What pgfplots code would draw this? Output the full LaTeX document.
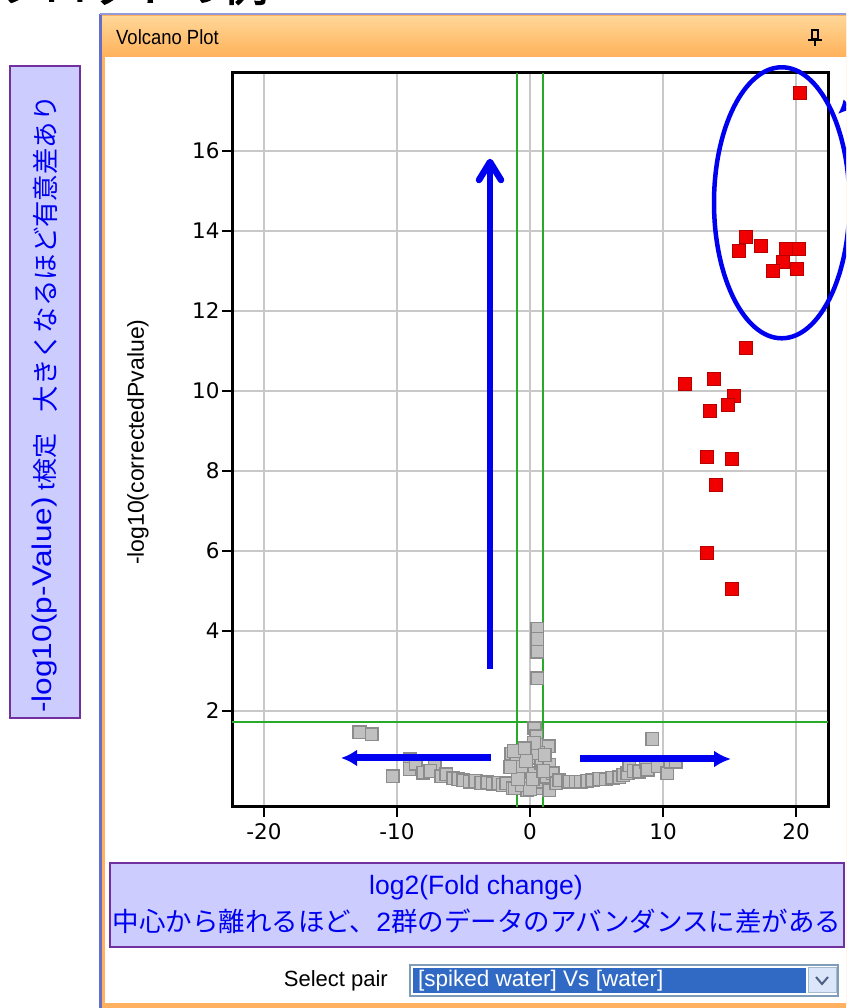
\documentclass[border=0pt]{standalone}
\usepackage{pgfplots}
\pgfplotsset{compat=1.18}
\usepackage{fontspec}
\setmainfont{Liberation Sans}
\newfontfamily\jp{Noto Sans CJK JP}
\newfontfamily\jpb[FakeBold=2.5]{Noto Sans CJK JP}
\newfontfamily\dv{DejaVu Sans}
\usetikzlibrary{arrows.meta}
\definecolor{gridgray}{RGB}{200,200,200}
\definecolor{ptgray}{RGB}{192,192,192}
\definecolor{ptgrayb}{RGB}{140,140,140}
\definecolor{ptred}{RGB}{240,0,0}
\definecolor{ptredb}{RGB}{185,0,0}
\definecolor{lgreen}{RGB}{40,170,40}
\definecolor{annoblue}{RGB}{0,0,240}
\definecolor{boxfill}{RGB}{204,204,255}
\definecolor{boxborder}{RGB}{112,48,160}
\definecolor{winorange}{RGB}{255,176,96}
\definecolor{winblue}{RGB}{100,110,200}
\definecolor{titletop}{RGB}{255,214,150}
\definecolor{titlebot}{RGB}{255,178,90}
\definecolor{selblue}{RGB}{49,106,197}
\definecolor{ddborder}{RGB}{127,157,185}
\definecolor{ddbtn}{RGB}{220,230,250}
\definecolor{ddarrow}{RGB}{77,97,133}
\begin{document}
\begin{tikzpicture}
\useasboundingbox (0,0) rectangle (846pt,1008pt);
\clip (0,0) rectangle (846pt,1008pt);
\fill[white] (0,0) rectangle (846pt,1008pt);
\begin{scope}[x=1pt,y=-1pt,yshift=1008pt]
  % cut-off heading
  \node[anchor=base west, inner sep=0pt, font=\jpb\fontsize{45}{50}\selectfont] at (-2,1) {プロットの例};
  % window frame
  \fill[winorange] (100,14) rectangle (850,1008);
  \fill[winblue] (99,14) rectangle (101.5,1008);
  \fill[white] (105,57) rectangle (850,1003);
  \fill[winblue!70] (100,13) rectangle (850,15);
  \shade[top color=titletop,bottom color=titlebot] (102,17) rectangle (850,56);
  \node[anchor=west, inner sep=0pt, font=\fontsize{20.5}{24}\selectfont] at (116,37) {\scalebox{0.9}[1]{Volcano Plot}};
  % pin icon
  \draw[black, line width=1.5pt] (812,30) rectangle (818,39);
  \draw[black, line width=1.5pt] (808,40) -- (822,40);
  \draw[black, line width=1.5pt] (815,40) -- (815,46);
  % left annotation box
  \filldraw[fill=boxfill, draw=boxborder, line width=2pt] (10,66) rectangle (80,718);
  \node[rotate=90, inner sep=0pt, text=annoblue, font=\fontsize{27}{30}\selectfont] at (45,605) {\scalebox{1.17}[1]{-log10(p-Value)}};
  \node[rotate=90, inner sep=0pt, text=annoblue, font=\fontsize{25}{30}\selectfont] at (45,462) {t{\jp 検定}};
  \node[rotate=90, inner sep=0pt, text=annoblue, font=\jp\fontsize{26.4}{30}\selectfont] at (45,254) {大きくなるほど有意差あり};
  % bottom annotation box
  \filldraw[fill=boxfill, draw=boxborder, line width=2pt] (110,863) rectangle (844,947);
  \node[inner sep=0pt, text=annoblue, font=\fontsize{26.5}{30}\selectfont] at (476,888) {log2(Fold change)};
  \node[inner sep=0pt, text=annoblue, font=\fontsize{26.5}{30}\selectfont] at (477,921) {{\jp 中心から離れるほど、}2{\jp 群のデータのアバンダンスに差がある}};
  % select pair
  \node[anchor=east, inner sep=0pt, font=\fontsize{22}{26}\selectfont] at (388,981) {Select pair};
  \filldraw[fill=white, draw=ddborder, line width=1.5pt] (410,965) rectangle (838,996);
  \fill[selblue] (413,968) rectangle (806,993);
  \filldraw[fill=ddbtn, draw=ddborder!70, line width=1pt] (808,968) rectangle (836,993);
  \draw[ddarrow, line width=2pt] (816,977) -- (822,984) -- (828,977);
  \node[anchor=west, inner sep=0pt, text=white, font=\fontsize{22.5}{26}\selectfont] at (418,981) {[spiked water] Vs [water]};
\end{scope}

\begin{axis}[
  at={(232pt,201pt)}, anchor=south west,
  scale only axis, width=596pt, height=734pt,
  xmin=-22.4, xmax=22.4, ymin=-0.4, ymax=17.95,
  xtick={-20,-10,0,10,20}, ytick={2,4,...,16},
  xtick pos=bottom, ytick pos=left,
  grid=major, major grid style={color=gridgray, line width=1.5pt},
  axis line style={line width=3pt, black},
  tick style={line width=2.5pt, black},
  tick align=outside, major tick length=10pt,
  ticklabel style={font=\dv\fontsize{21.5}{25}\selectfont},
  xticklabel style={yshift=-3pt},
  yticklabel style={xshift=1pt},
  /pgf/number format/assume math mode=true,
  ylabel={-log10(correctedPvalue)},
  ylabel style={at={(axis description cs:-0.158,0.497)}, anchor=center, font=\fontsize{23}{26}\selectfont},
]
\addplot[only marks, mark=square*, mark size=6.3pt, mark options={fill=ptgray, draw=ptgrayb, line width=1.5pt}] coordinates {
(-12.82,1.47) (-11.9,1.42) (-10.32,0.37) (-9.03,0.79) (-9.03,0.55) (-8.6,0.68)
(-8.03,0.46) (-7.15,0.68) (-7.5,0.5) (-6.65,0.37) (-6.3,0.42) (-5.78,0.32)
(-5.4,0.3) (-5.03,0.27) (-4.53,0.23) (-4.1,0.25) (-3.66,0.2) (-3.2,0.22)
(-2.79,0.18) (-2.4,0.2) (-2.04,0.15) (-1.78,0.19) (-1.41,0.93) (-1.29,0.07)
(-1.16,0.07) (-1.03,0.86) (-0.79,0.40) (-0.54,0.61) (-0.28,1.04) (-0.2,0.02)
(0.09,0.83) (0.34,0.44) (0.34,1.57) (0.46,1.37) (0.51,1.15) (0.46,0.07)
(0.71,0.23) (0.84,0.69) (1.21,0.36) (1.41,1.12) (1.46,0.65) (1.46,0.02)
(1.71,0.44) (1.96,0.19) (2.2,0.27) (2.83,0.23) (2.96,0.23) (3.46,0.23)
(3.83,0.23) (4.3,0.25) (4.7,0.27) (5.2,0.3) (5.7,0.29) (6.2,0.33)
(6.7,0.34) (7.0,0.4) (7.33,0.44) (7.45,0.65) (7.8,0.5) (8.2,0.48)
(8.7,0.73) (8.83,0.53) (9.2,1.3) (9.6,0.62) (10.32,0.44) (10.58,0.73) (10.95,0.73)
(0.55,4.05) (0.55,3.8) (0.55,3.48) (0.55,2.82)
(-0.6,0.15) (0.0,0.05) (0.2,0.3) (-0.9,0.3) (0.6,0.95) (-0.3,0.75)
(1.0,0.5) (-1.5,0.6) (0.3,1.2) (1.1,0.9) (-1.2,1.0) (-0.41,1.07)
};
\draw[lgreen, line width=1.8pt] (axis cs:-1,-0.4) -- (axis cs:-1,17.95);
\draw[lgreen, line width=1.8pt] (axis cs:1,-0.4) -- (axis cs:1,17.95);
\draw[lgreen, line width=1.8pt] (axis cs:-22.4,1.72) -- (axis cs:22.4,1.72);
\addplot[only marks, mark=square*, mark size=6.5pt, mark options={fill=ptred, draw=ptredb, line width=1pt}] coordinates {
(20.33,17.45) (16.25,13.86) (15.7,13.49) (17.33,13.63) (19.25,13.54) (20.2,13.54)
(19.0,13.22) (18.3,13.0) (20.05,13.04) (16.25,11.08) (11.65,10.17) (13.83,10.31)
(15.33,9.87) (14.9,9.65) (13.55,9.49) (13.28,8.36) (15.18,8.31) (13.95,7.66)
(13.28,5.94) (15.18,5.04)
};
\end{axis}

\begin{scope}[x=1pt,y=-1pt,yshift=1008pt]
  % vertical arrow
  \draw[annoblue, line width=6.5pt] (490,669) -- (490,164);
  \draw[annoblue, line width=6.5pt, line cap=round, line join=round] (479,180) -- (490,162) -- (501,180);
  % horizontal arrows
  \draw[annoblue, line width=7pt, -{Latex[length=16pt,width=17pt]}] (491,758) -- (341,758);
  \draw[annoblue, line width=7pt, -{Latex[length=17pt,width=17pt]}] (580,759) -- (731,759);
  % ellipse
  \draw[annoblue, line width=4.5pt] (781.7,202.8) ellipse [x radius=67.7, y radius=135.5];
  \draw[annoblue, line width=4pt, -{Latex[length=14pt,width=14pt]}] (885,70) -- (838,114);
\end{scope}
\end{tikzpicture}
\end{document}
